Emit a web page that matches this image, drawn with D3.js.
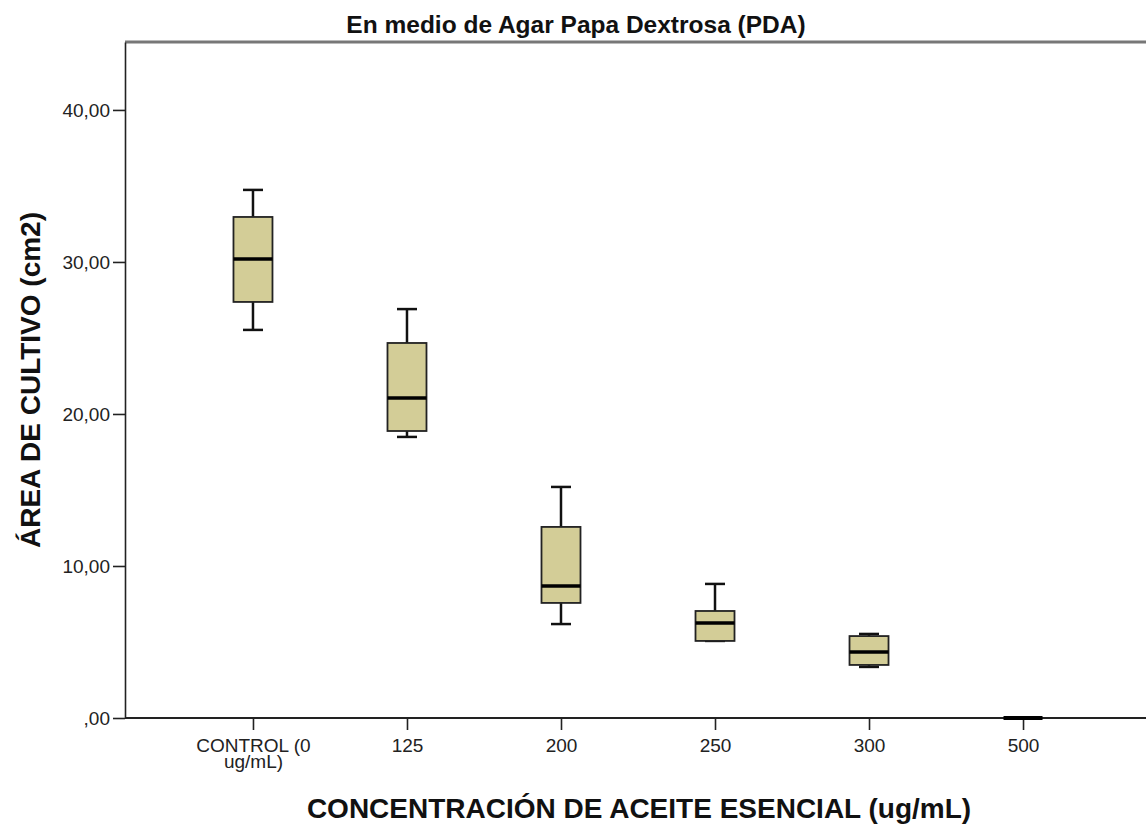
<!DOCTYPE html>
<html>
<head>
<meta charset="utf-8">
<script src="https://cdn.jsdelivr.net/npm/d3@7"></script>
<style>
  body { margin: 0; background: #fff; }
  svg { display: block; }
</style>
</head>
<body>
<div id="chart"></div>
<script>
// categories and box statistics
const categories = ["CONTROL (0 ug/mL)", "125", "200", "250", "300", "500"];
const whiskerMax = [34.74, 26.9, 15.2, 8.82, 5.53, 0];
const q3 = [32.96, 24.67, 12.57, 7.04, 5.39, 0];
const median = [30.2, 21.05, 8.68, 6.25, 4.34, 0];
const q1 = [27.37, 18.88, 7.57, 5.07, 3.49, 0];
const whiskerMin = [25.53, 18.49, 6.18, 5.07, 3.36, 0];
const yTicks = [0, 10, 20, 30, 40];

const width = 1146, height = 825;
const margin = { top: 42, right: -5, bottom: 107, left: 125 };
const font = "Liberation Sans, Arial, sans-serif";

const svg = d3.select("#chart").append("svg")
    .attr("width", width)
    .attr("height", height);

const x = d3.scalePoint()
    .domain(categories)
    .range([margin.left, width - margin.right])
    .padding(0.831);

const y = d3.scaleLinear()
    .domain([0, 44.47])
    .range([height - margin.bottom, margin.top]);

const fmt = d => d === 0 ? ",00" : d3.format(".2f")(d).replace(".", ",");

// top frame line
svg.append("line")
    .attr("x1", margin.left).attr("x2", width)
    .attr("y1", y(44.47)).attr("y2", y(44.47))
    .attr("stroke", "#777").attr("stroke-width", 3);

// y axis
const yAxis = svg.append("g")
    .attr("transform", `translate(${margin.left},0)`)
    .call(d3.axisLeft(y).tickValues(yTicks).tickFormat(fmt).tickSize(12).tickSizeOuter(0));
yAxis.select(".domain").attr("stroke", "#222").attr("stroke-width", 1.6);
yAxis.selectAll(".tick line").attr("stroke", "#222").attr("stroke-width", 1.6);
yAxis.selectAll(".tick text")
    .attr("font-family", font)
    .attr("font-size", 19).attr("fill", "#222").attr("x", -15);

// x axis
const xAxis = svg.append("g")
    .attr("transform", `translate(0,${y(0)})`)
    .call(d3.axisBottom(x).tickSize(12).tickSizeOuter(0));
xAxis.select(".domain").attr("stroke", "#222").attr("stroke-width", 2)
    .attr("d", `M${margin.left},0H${width}`);
xAxis.selectAll(".tick line").attr("stroke", "#222").attr("stroke-width", 1.6);
xAxis.selectAll(".tick text").remove();
xAxis.selectAll(".tick").each(function(d) {
  const words = d === categories[0] ? ["CONTROL (0", "ug/mL)"] : [d];
  const t = d3.select(this).append("text")
      .attr("font-family", font)
      .attr("font-size", 19).attr("fill", "#222")
      .attr("text-anchor", "middle")
      .attr("y", 34);
  words.forEach((w, i) => {
    t.append("tspan").attr("x", 0).attr("dy", i === 0 ? 0 : 16).text(w);
  });
});

// boxes
const boxW = 39, capW = 20;
const boxes = svg.append("g").selectAll("g")
    .data(categories.map((c, i) => ({ c, i })))
    .join("g")
    .attr("transform", d => `translate(${x(d.c)},0)`);

boxes.filter(d => whiskerMax[d.i] > 0).each(function(d) {
  const g = d3.select(this);
  const i = d.i;
  g.append("line")
      .attr("y1", y(whiskerMax[i])).attr("y2", y(q3[i]))
      .attr("stroke", "#111").attr("stroke-width", 2.5);
  g.append("line")
      .attr("y1", y(whiskerMin[i])).attr("y2", y(q1[i]))
      .attr("stroke", "#111").attr("stroke-width", 2.5);
  g.append("line")
      .attr("x1", -capW / 2).attr("x2", capW / 2)
      .attr("y1", y(whiskerMax[i])).attr("y2", y(whiskerMax[i]))
      .attr("stroke", "#111").attr("stroke-width", 2.5);
  g.append("line")
      .attr("x1", -capW / 2).attr("x2", capW / 2)
      .attr("y1", y(whiskerMin[i])).attr("y2", y(whiskerMin[i]))
      .attr("stroke", "#111").attr("stroke-width", 2.5);
  g.append("rect")
      .attr("x", -boxW / 2).attr("width", boxW)
      .attr("y", y(q3[i])).attr("height", y(q1[i]) - y(q3[i]))
      .attr("fill", "#d3cd97").attr("stroke", "#222").attr("stroke-width", 1.8);
  g.append("line")
      .attr("x1", -boxW / 2).attr("x2", boxW / 2)
      .attr("y1", y(median[i])).attr("y2", y(median[i]))
      .attr("stroke", "#000").attr("stroke-width", 3.5);
});

// zero-width box for 500
boxes.filter(d => whiskerMax[d.i] === 0).append("line")
    .attr("x1", -boxW / 2).attr("x2", boxW / 2)
    .attr("y1", d => y(median[d.i])).attr("y2", d => y(median[d.i]))
    .attr("stroke", "#000").attr("stroke-width", 4);

// title
svg.append("text")
    .attr("x", 576).attr("y", 33)
    .attr("text-anchor", "middle")
    .attr("font-family", font)
    .attr("font-weight", "bold").attr("font-size", 24.5).attr("fill", "#111")
    .text("En medio de Agar Papa Dextrosa (PDA)");

// axis titles
svg.append("text")
    .attr("x", 639).attr("y", 818)
    .attr("text-anchor", "middle")
    .attr("font-family", font)
    .attr("font-weight", "bold").attr("font-size", 28).attr("fill", "#111")
    .text("CONCENTRACIÓN DE ACEITE ESENCIAL (ug/mL)");

svg.append("text")
    .attr("transform", "translate(40,380) rotate(-90)")
    .attr("text-anchor", "middle")
    .attr("font-family", font)
    .attr("font-weight", "bold").attr("font-size", 28).attr("fill", "#111")
    .text("ÁREA DE CULTIVO (cm2)");
</script>
</body>
</html>
